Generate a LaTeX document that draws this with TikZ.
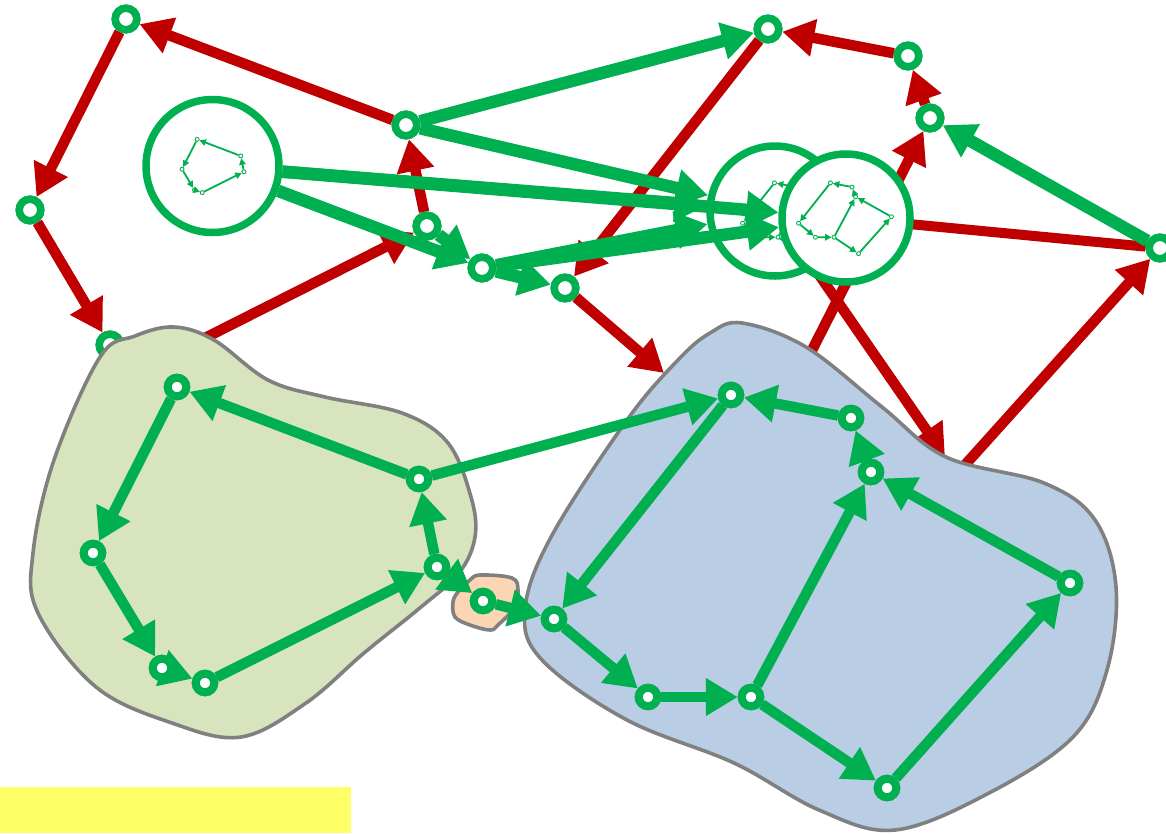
\documentclass[tikz,border=0pt]{standalone}
\usetikzlibrary{arrows.meta}
\definecolor{gr}{HTML}{00B050}
\definecolor{rd}{HTML}{C00000}
\definecolor{gfill}{HTML}{D7E4BD}
\definecolor{bfill}{HTML}{B9CDE5}
\definecolor{pfill}{HTML}{FCD5B5}
\definecolor{yel}{HTML}{FFFF66}
\definecolor{outl}{HTML}{808080}
\newcommand{\myBlueMini}[3]{%
\begin{scope}[shift={(#2,#3)},scale=0.18,shift={(-812,-590)}]
 \node[mnode] (#1b1) at (731,395) {};
 \node[mnode] (#1b2) at (851,418) {};
 \node[mnode] (#1b3) at (871,472) {};
 \node[mnode] (#1b4) at (1070,583) {};
 \node[mnode] (#1b5) at (887,788) {};
 \node[mnode] (#1b6) at (751,697) {};
 \node[mnode] (#1b7) at (648,697) {};
 \node[mnode] (#1b8) at (554,619) {};
 \draw[marrow] (#1b2) -- (#1b1);
 \draw[marrow] (#1b1) -- (#1b8);
 \draw[marrow] (#1b8) -- (#1b7);
 \draw[marrow] (#1b7) -- (#1b6);
 \draw[marrow] (#1b6) -- (#1b3);
 \draw[marrow] (#1b6) -- (#1b5);
 \draw[marrow] (#1b5) -- (#1b4);
 \draw[marrow] (#1b4) -- (#1b3);
 \draw[marrow] (#1b3) -- (#1b2);
\end{scope}}
\begin{document}
\begin{tikzpicture}[x=1pt,y=-1pt,
  topnode/.style={circle, draw=gr, fill=white, line width=7.5pt, minimum size=21.5pt, inner sep=0pt},
  innode/.style={circle, draw=gr, fill=white, line width=8pt, minimum size=18.5pt, inner sep=0pt},
  bignode/.style={circle, draw=gr, fill=white, line width=7.5pt, inner sep=0pt},
  mnode/.style={circle, draw=gr, fill=white, line width=0.9pt, minimum size=4pt, inner sep=0pt},
  marrow/.style={draw=gr, line width=1.8pt, -{Triangle[length=6.5pt,width=6.5pt]}},
  garrow/.style={draw=gr, line width=12.5pt, -{Triangle[length=32pt,width=36pt]}},
  rarrow/.style={draw=rd, line width=10.5pt, -{Triangle[length=32pt,width=36pt]}},
  rline/.style={draw=rd, line width=10pt},
  iarrow/.style={draw=gr, line width=10.5pt, -{Triangle[length=32pt,width=36pt]}},
  blob/.style={draw=outl, line width=3.6pt}]
\useasboundingbox (0,0) rectangle (1166,833);
% top-level small nodes
\node[topnode] (A) at (126,19) {};
\node[topnode] (B) at (30,210) {};
\node[topnode] (C) at (110,345) {};
\node[topnode] (D) at (406,125) {};
\node[topnode] (E) at (427,226) {};
\node[topnode] (F) at (482,268) {};
\node[topnode] (G) at (565,288) {};
\node[topnode] (H) at (768,29) {};
\node[topnode] (I) at (908,56) {};
\node[topnode] (J) at (930,118) {};
\node[topnode] (K) at (1160,248) {};
% hidden / free ends
\coordinate (gsrc) at (189,346);
\coordinate (bin1) at (664,373);
\coordinate (bin2) at (945,457);
\coordinate (bsrc1) at (806,362);
\coordinate (bsrc2) at (955,476);
\coordinate (L2c) at (775,211);
\coordinate (L3c) at (846,218);
% red edges
\draw[rarrow] (D) -- (A);
\draw[rarrow] (A) -- (B);
\draw[rarrow] (B) -- (C);
\draw[rarrow] (gsrc) -- (E);
\draw[rarrow] (E) -- (D);
\draw[rarrow] (H) -- (G);
\draw[rarrow] (G) -- (bin1);
\draw[rarrow] (I) -- (H);
\draw[rarrow] (J) -- (I);
\draw[rarrow] (bsrc1) -- (J);
\draw[rarrow] (bsrc2) -- (K);
\draw[rarrow] (L2c) -- (bin2);
\draw[rline] (K) -- (L3c);
% big circles
\node[bignode, minimum size=133pt] (L1) at (212.5,166) {};
\begin{scope}[shift={(213,166)},scale=0.18,shift={(-265,-535)}]
 \node[mnode] (mg1) at (177,387) {};
 \node[mnode] (mg2) at (93,553) {};
 \node[mnode] (mg3) at (162,668) {};
 \node[mnode] (mg4) at (205,683) {};
 \node[mnode] (mg5) at (437,567) {};
 \node[mnode] (mg6) at (419,479) {};
 \draw[marrow] (mg6) -- (mg1);
 \draw[marrow] (mg1) -- (mg2);
 \draw[marrow] (mg2) -- (mg3);
 \draw[marrow] (mg3) -- (mg4);
 \draw[marrow] (mg4) -- (mg5);
 \draw[marrow] (mg5) -- (mg6);
\end{scope}
\node[bignode, minimum size=130pt] (L2) at (L2c) {};
\myBlueMini{p}{789}{218}
\node[bignode, minimum size=128pt] (L3) at (L3c) {};
\myBlueMini{q}{845}{218}
% green top-level edges
\draw[garrow] (D) -- (H);
\draw[garrow] (D) -- (L2);
\draw[garrow] (L1) -- (L2);
\draw[garrow] (L1) -- (L3);
\draw[garrow] (L1) -- (F);
\draw[garrow] (E) -- (F);
\draw[garrow] (F) -- (G);
\draw[garrow] (F) -- (L2);
\draw[garrow] (F) -- (L3);
\draw[garrow] (K) -- (J);
% redraw small nodes on top
\foreach \n in {A,B,C,D,E,F,G,H,I,J,K} {\node[topnode] at (\n) {};}
% blobs
\draw[blob, fill=gfill] plot[smooth cycle, tension=0.6] coordinates {(174,327) (214,340) (268,380) (325,397) (402,413) (448,443) (471,497) (475,537) (459,573) (421,607) (364,653) (306,703) (241,737) (172,723) (96,687) (38,613) (33,553) (54,460) (100,357) (135,336)};
\draw[blob, fill=bfill] plot[smooth cycle, tension=0.6] coordinates {(742,323) (806,347) (882,407) (946,457) (1044,483) (1095,520) (1116,587) (1107,670) (1073,737) (989,793) (895,830) (819,810) (734,763) (627,720) (542,660) (525,610) (551,537) (627,420) (678,360) (710,333)};
\draw[blob, fill=pfill] plot[smooth cycle, tension=0.6] coordinates {(480,575) (512,578) (518,590) (515,607) (498,625) (490,630) (470,625) (455,617) (453,602) (458,592) (470,580)};
% yellow bar
\fill[yel] (0,787) rectangle (351,833);
% inner nodes
\node[innode] (g1) at (177,387) {};
\node[innode] (g2) at (93,553) {};
\node[innode] (g3) at (162,668) {};
\node[innode] (g4) at (205,683) {};
\node[innode] (g5) at (437,567) {};
\node[innode] (g6) at (419,479) {};
\node[innode] (p1) at (483,601) {};
\node[innode] (b1) at (731,395) {};
\node[innode] (b2) at (851,418) {};
\node[innode] (b3) at (871,472) {};
\node[innode] (b4) at (1070,583) {};
\node[innode] (b5) at (887,788) {};
\node[innode] (b6) at (751,697) {};
\node[innode] (b7) at (648,697) {};
\node[innode] (b8) at (554,619) {};
% inner edges
\draw[iarrow] (g6) -- (g1);
\draw[iarrow] (g1) -- (g2);
\draw[iarrow] (g2) -- (g3);
\draw[iarrow] (g3) -- (g4);
\draw[iarrow] (g4) -- (g5);
\draw[iarrow] (g5) -- (g6);
\draw[iarrow] (g6) -- (b1);
\draw[iarrow] (g5) -- (p1);
\draw[iarrow] (p1) -- (b8);
\draw[iarrow] (b2) -- (b1);
\draw[iarrow] (b1) -- (b8);
\draw[iarrow] (b8) -- (b7);
\draw[iarrow] (b7) -- (b6);
\draw[iarrow] (b6) -- (b3);
\draw[iarrow] (b6) -- (b5);
\draw[iarrow] (b5) -- (b4);
\draw[iarrow] (b4) -- (b3);
\draw[iarrow] (b3) -- (b2);
\foreach \n in {g1,g2,g3,g4,g5,g6,p1,b1,b2,b3,b4,b5,b6,b7,b8} {\node[innode] at (\n) {};}
\end{tikzpicture}
\end{document}
